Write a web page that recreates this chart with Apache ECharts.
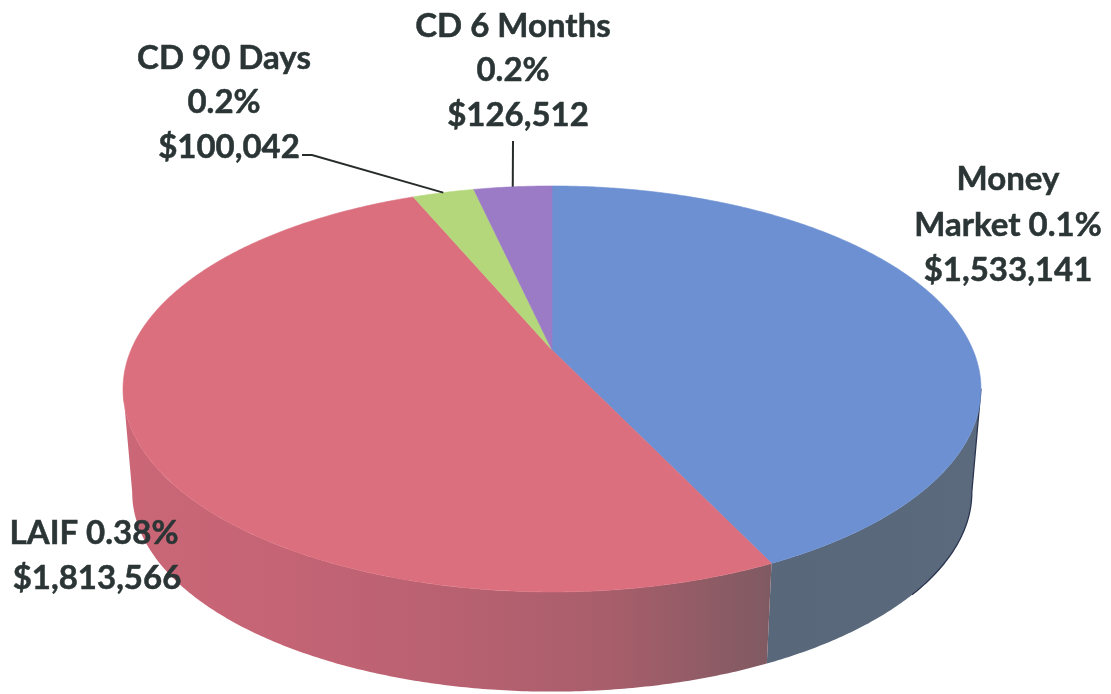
<!DOCTYPE html>
<html>
<head>
<meta charset="utf-8">
<style>html,body{margin:0;padding:0;background:#fff}#chart{width:1111px;height:694px}</style>
<script src="https://cdn.jsdelivr.net/npm/echarts@6/dist/echarts.min.js"></script>
</head>
<body>
<div id="chart"></div>
<script>
// Investment balances by holding
const categories = ['Money Market', 'LAIF', 'CD 90 Days', 'CD 6 Months'];
const balances = [1533141, 1813566, 100042, 126512];
const rateLabels = ['0.1%', '0.38%', '0.2%', '0.2%'];

// Colours of each slice: top face, wall gradient from left to right
const topColors = ['#6c90d2', '#dc6f7e', '#b5d77c', '#9b7ac6'];
const wallStops = [
  ['#586779', '#59687b', '#5c6a7e'],
  ['#cb6777', '#c46475', '#b96171', '#a85e6b', '#7f5a62'],
  null,
  null
];

// Label layout: centre x and y of each line; a leader may bend before reaching the rim
const labelLayout = [
  { xs: [1008, 1008, 1008], ys: [179, 225, 270], lines: v => ['Money', 'Market ' + v.rate, v.amount] },
  { xs: [94, 97], ys: [533, 578], lines: v => [v.name + ' ' + v.rate, v.amount] },
  { xs: [224, 224, 229], ys: [58, 102, 147], lines: v => [v.name, v.rate, v.amount], leader: [[302, 155], [312, 155]] },
  { xs: [513, 513, 518], ys: [26, 70, 115], lines: v => [v.name, v.rate, v.amount], leader: [[513, 141]] }
];

// Perspective disc: the top and bottom faces of the cylinder
const topDisc = { cx: 552, cy: 350, a: 421, b: 195.5, k: 0.192 };
const baseDisc = { cx: 552, cy: 454, a: 412, b: 192, k: 0.192 };
const WALL_FROM = 101, WALL_TO = 259;
const FONT = { fontFamily: 'Lato', fontWeight: 700, fontSize: 33 };
const TEXT_COLOR = '#2b3535';

function project(disc, deg) {
  const t = deg * Math.PI / 180;
  const u = Math.sin(t), v = -Math.cos(t), w = 1 - disc.k * v;
  return [disc.cx + disc.a * u / w, disc.cy + disc.b * v / w];
}

function arc(disc, from, to) {
  const pts = [];
  const n = Math.max(2, Math.ceil(Math.abs(to - from) * 2));
  for (let i = 0; i <= n; i++) pts.push(project(disc, from + (to - from) * i / n));
  return pts;
}

const total = balances.reduce((s, x) => s + x, 0);
const money = n => '$' + n.toLocaleString('en-US');

function renderSlice(params, api) {
  const i = params.dataIndex;
  const start = api.value(1) / total * 360;
  const end = start + api.value(2) / total * 360;
  const children = [];

  // Outer wall, only where it faces the viewer
  const wFrom = Math.max(start, WALL_FROM), wTo = Math.min(end, WALL_TO);
  if (wTo > wFrom && wallStops[i]) {
    const stops = wallStops[i];
    children.push({
      type: 'polygon', z2: 1, silent: true,
      shape: { points: arc(topDisc, wFrom, wTo).concat(arc(baseDisc, wTo, wFrom)) },
      style: {
        fill: {
          type: 'linear', x: 0, y: 0, x2: 1, y2: 0,
          colorStops: stops.map((c, j) => ({ offset: j / (stops.length - 1), color: c }))
        }
      }
    });
  }
  // Dark rim along the right side of the first wall
  if (i === 0) {
    children.push({
      type: 'polyline', z2: 2, silent: true,
      shape: { points: [project(topDisc, WALL_FROM)].concat(arc(baseDisc, WALL_FROM, 130)) },
      style: { stroke: '#2c3550', lineWidth: 1.3, fill: null }
    });
  }
  // Top face
  children.push({
    type: 'polygon', z2: 3, silent: true,
    shape: { points: [[topDisc.cx, topDisc.cy]].concat(arc(topDisc, start, end)) },
    style: { fill: topColors[i], stroke: topColors[i], lineWidth: 0.6 }
  });

  // Leader from the label to the middle of the rim
  const layout = labelLayout[i];
  if (layout.leader) {
    children.push({
      type: 'polyline', z2: 4, silent: true,
      shape: { points: layout.leader.concat([project(topDisc, (start + end) / 2)]) },
      style: { stroke: '#262b2b', lineWidth: 2, fill: null }
    });
  }
  // Label lines
  const lines = layout.lines({ name: categories[i], rate: rateLabels[i], amount: money(balances[i]) });
  lines.forEach((text, j) => {
    children.push({
      type: 'text', z2: 5, silent: true,
      style: Object.assign({
        text, x: layout.xs[j], y: layout.ys[j], align: 'center', verticalAlign: 'middle',
        fill: TEXT_COLOR, stroke: TEXT_COLOR, lineWidth: 0.5
      }, FONT)
    });
  });
  return { type: 'group', children };
}

// Each row: slice index, share already swept, own balance
let swept = 0;
const rows = balances.map((b, i) => {
  const row = [i, swept, b];
  swept += b;
  return row;
});

const chart = echarts.init(document.getElementById('chart'), null, { renderer: 'canvas' });
chart.setOption({
  animation: false,
  backgroundColor: '#ffffff',
  series: [{
    type: 'custom',
    coordinateSystem: 'none',
    renderItem: renderSlice,
    data: rows
  }]
});
</script>
</body>
</html>
